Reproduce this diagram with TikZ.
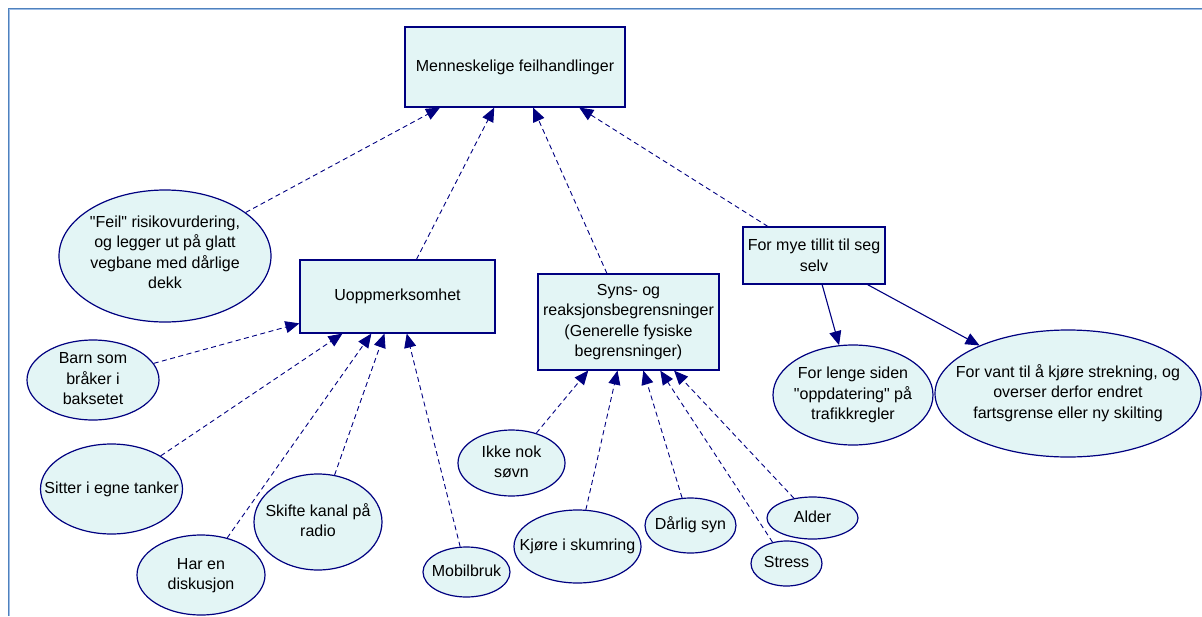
\documentclass[tikz,border=0pt]{standalone}
\usepackage{fontspec}
\setmainfont{Liberation Sans}[Ligatures=TeXOff]
\usetikzlibrary{shapes.geometric,arrows.meta}
\definecolor{navyline}{HTML}{000080}
\definecolor{nodefill}{HTML}{E3F5F5}
\definecolor{frameblue}{HTML}{4F81BD}
\definecolor{framelight}{HTML}{9DBDE6}
% ellipse labels take no room, so the ellipse size is set by its minimum width/height alone
\newcommand{\elltext}[2][-9pt]{\raisebox{#1}{\smash{\makebox[0pt]{\begin{tabular}{@{}c@{}}#2\end{tabular}}}}}
\tikzset{
  every node/.style={font=\fontsize{16}{20.5}\selectfont, text=black},
  boxnode/.style={rectangle, draw=navyline, fill=nodefill, line width=1.2pt, inner sep=0pt, align=center},
  ellnode/.style={ellipse, draw=navyline, fill=nodefill, line width=1.2pt, inner sep=0pt},
  cause/.style={draw=navyline, line width=0.9pt, dash pattern=on 5pt off 3.5pt,
    -{Triangle[length=14pt,width=12pt]}},
  effect/.style={draw=navyline, line width=1.1pt, -{Triangle[length=14pt,width=12pt]}},
}
\begin{document}
\begin{tikzpicture}[x=1pt,y=-1pt]
\useasboundingbox (0,0) rectangle (1202,616);
% frame along the top and left edges
\draw[framelight, line width=1.2pt] (9.6,616) -- (9.6,9.6) -- (1202,9.6);
\draw[frameblue, line width=1.4pt] (8.2,616) -- (8.2,8.2) -- (1202,8.2);

% main boxes
\node[boxnode, minimum width=220pt, minimum height=80pt] (top) at (515,67) {Menneskelige feilhandlinger};
\node[boxnode, minimum width=195pt, minimum height=73pt] (uopp) at (397.5,296.5) {Uoppmerksomhet};
\node[boxnode, minimum width=181pt, minimum height=96pt] (syns) at (628.5,322) {Syns- og\\reaksjonsbegrensninger\\(Generelle fysiske\\begrensninger)};
\node[boxnode, minimum width=142pt, minimum height=57pt] (tillit) at (814,255.5) {For mye tillit til seg\\selv};

% causes
\node[ellnode, minimum width=212pt, minimum height=132pt] (feil) at (165,256) {\elltext[-4pt]{"Feil" risikovurdering,\\og legger ut på glatt\\vegbane med dårlige\\dekk}};
\node[ellnode, minimum width=132pt, minimum height=80pt] (barn) at (93,380) {\elltext{Barn som\\bråker i\\baksetet}};
\node[ellnode, minimum width=142pt, minimum height=90pt] (tanker) at (111.5,489) {\elltext{Sitter i egne tanker}};
\node[ellnode, minimum width=128pt, minimum height=80pt] (diskusjon) at (201,575) {\elltext{Har en\\diskusjon}};
\node[ellnode, minimum width=128pt, minimum height=96pt] (radio) at (318,522) {\elltext{Skifte kanal på\\radio}};
\node[ellnode, minimum width=87pt, minimum height=50pt] (mobil) at (466.5,572) {\elltext{Mobilbruk}};
\node[ellnode, minimum width=107pt, minimum height=66pt] (sovn) at (511.5,463) {\elltext{Ikke nok\\søvn}};
\node[ellnode, minimum width=127pt, minimum height=73pt] (skumring) at (577.5,546.5) {\elltext{Kjøre i skumring}};
\node[ellnode, minimum width=91pt, minimum height=55pt] (syn) at (690.5,525.5) {\elltext{Dårlig syn}};
\node[ellnode, minimum width=91pt, minimum height=42pt] (alder) at (812.5,518) {\elltext{Alder}};
\node[ellnode, minimum width=71pt, minimum height=45pt] (stress) at (786.5,563.5) {\elltext{Stress}};
\node[ellnode, minimum width=160pt, minimum height=100pt] (oppd) at (853,395) {\elltext{For lenge siden\\"oppdatering" på\\trafikkregler}};
\node[ellnode, minimum width=266pt, minimum height=127pt] (vant) at (1068,393.5) {\elltext{For vant til å kjøre strekning, og\\overser derfor endret\\fartsgrense eller ny skilting}};

% dashed cause connectors
\draw[cause] (feil) -- (top);
\draw[cause] (uopp) -- (top);
\draw[cause] (syns) -- (top);
\draw[cause] (tillit) -- (top);
\draw[cause] (barn) -- (uopp);
\draw[cause] (tanker) -- (uopp);
\draw[cause] (diskusjon) -- (uopp);
\draw[cause] (radio) -- (uopp);
\draw[cause] (mobil) -- (uopp);
\draw[cause] (sovn) -- (syns);
\draw[cause] (skumring) -- (syns);
\draw[cause] (syn) -- (syns);
\draw[cause] (stress) -- (syns);
\draw[cause] (alder) -- (syns);

% solid connectors
\draw[effect] (tillit) -- (oppd);
\draw[effect] (tillit) -- (vant);
\end{tikzpicture}
\end{document}
